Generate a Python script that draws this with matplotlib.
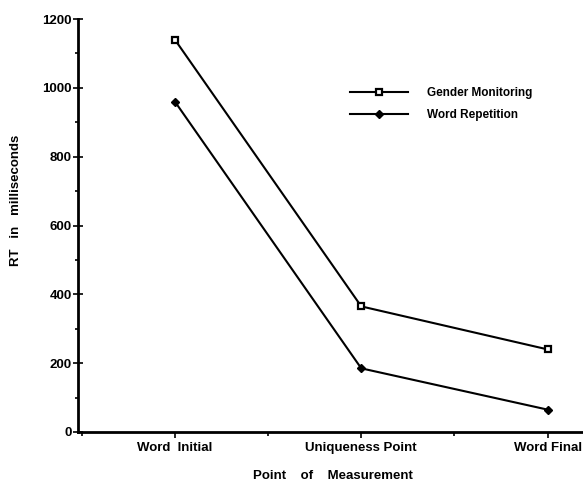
import matplotlib.pyplot as plt
from matplotlib.ticker import MultipleLocator

plt.rcParams['font.family'] = ['Liberation Sans', 'DejaVu Sans']

categories = ['Word  Initial', 'Uniqueness Point', 'Word Final']
gender_monitoring = [1140, 365, 240]
word_repetition = [960, 185, 65]

fig = plt.figure(figsize=(5.83, 4.84), dpi=100)
ax = fig.add_axes([78 / 583, 52 / 484, 1 - 78 / 583, 413 / 484])

x = range(len(categories))
ax.plot(x, gender_monitoring, color='black', lw=1.5, marker='s', ms=5,
        mfc='white', mec='black', mew=1.6, label='Gender Monitoring')
ax.plot(x, word_repetition, color='black', lw=1.5, marker='D', ms=4.5,
        mfc='black', mec='black', label='Word Repetition')

ax.set_xlim(-0.52, 2.19)
ax.set_ylim(0, 1200)
ax.set_xticks(list(x))
ax.set_xticklabels(categories, fontsize=9.5, fontweight='bold')
ax.xaxis.set_minor_locator(MultipleLocator(0.5))
ax.yaxis.set_major_locator(MultipleLocator(200))
ax.yaxis.set_minor_locator(MultipleLocator(100))
ax.tick_params(axis='y', labelsize=9.5, direction='inout', length=7, width=1.2, pad=1)
ax.tick_params(axis='y', which='minor', direction='out', length=2.5, width=1.2)
ax.tick_params(axis='x', labelsize=9.5, direction='out', length=4, width=1.2, pad=3)
ax.tick_params(axis='x', which='minor', direction='out', length=3, width=1.2)
for lbl in ax.get_yticklabels():
    lbl.set_fontweight('bold')

for s in ['top', 'right']:
    ax.spines[s].set_visible(False)
for s in ['left', 'bottom']:
    ax.spines[s].set_linewidth(2)

ax.set_xlabel('Point    of    Measurement', fontsize=9.5, fontweight='bold')
ax.xaxis.set_label_coords(0.505, -0.092)
ax.set_ylabel('RT   in   milliseconds', fontsize=9.5, fontweight='bold')
ax.yaxis.set_label_coords(-0.111, 0.56)

ax.legend(loc='upper left', bbox_to_anchor=(0.539, 0.835), frameon=False,
          handlelength=4.9, handletextpad=1.6, labelspacing=0.85,
          borderpad=0, borderaxespad=0,
          prop={'weight': 'bold', 'size': 8.5})

fig.savefig('out.png', dpi=100)
